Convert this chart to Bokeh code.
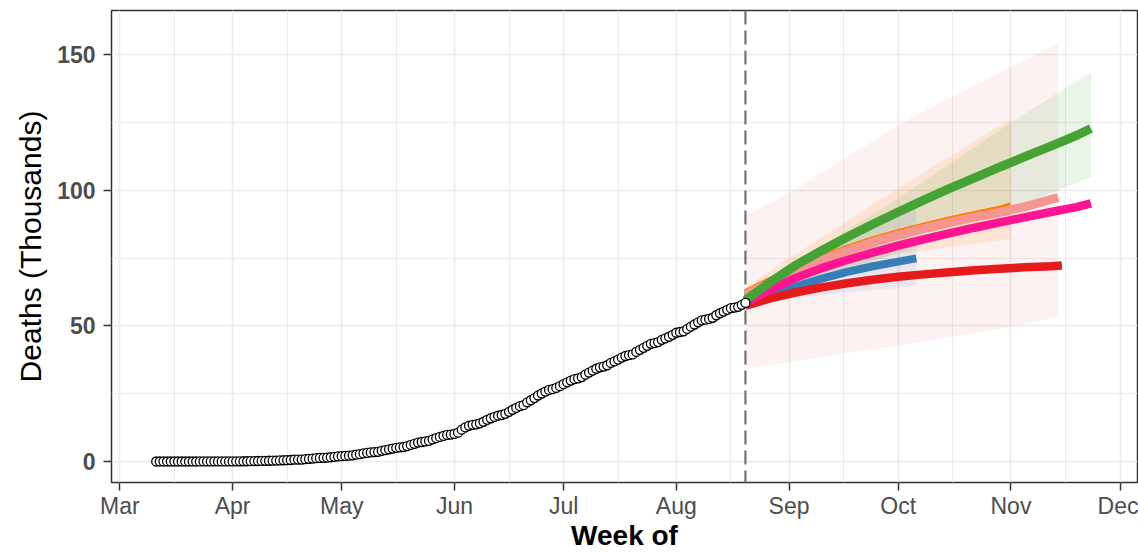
import pandas as pd
from bokeh.plotting import figure
from bokeh.models import Range1d, FixedTicker, DatetimeTickFormatter, Span
from bokeh.embed import file_html
from bokeh.resources import INLINE

# ---------------- data ----------------
obs_start = "2020-03-11"
obs_deaths = [
    0, 0, 0, 0, 0, 0, 0,
    0.001, 0.001, 0.002, 0.002, 0.002, 0.004, 0.005, 0.006, 0.008, 0.012, 0.016, 0.020, 0.028, 0.029,
    0.037, 0.050, 0.060, 0.079, 0.094, 0.125, 0.141, 0.174, 0.194, 0.233, 0.273, 0.296, 0.332, 0.406,
    0.449, 0.486, 0.546, 0.650, 0.686, 0.712, 0.857, 0.970, 1.069, 1.221, 1.305, 1.351, 1.434, 1.569,
    1.732, 1.859,
    1.972, 2.061, 2.154, 2.271, 2.507, 2.704, 2.961, 3.160, 3.353, 3.465, 3.573, 3.926, 4.220, 4.477,
    4.767, 5.045, 5.177, 5.332, 5.666, 6.090, 6.510, 6.989, 7.179, 7.394, 7.633, 8.134, 8.597, 9.044,
    9.415, 9.779, 9.930,
    10.167, 10.637, 11.729, 12.545, 13.170, 13.511, 13.699, 14.053, 14.649, 15.357, 15.944, 16.448,
    16.872, 17.141, 17.580, 18.310, 19.080, 19.747, 20.394, 20.781, 21.825, 22.584, 23.377, 24.324,
    25.060, 25.779, 26.381, 26.648, 27.121, 27.769,
    28.510, 29.189, 29.843, 30.366, 30.639, 31.119, 32.014, 32.796, 33.526, 34.191, 34.730, 35.006,
    35.491, 36.327, 36.906, 37.574, 38.310, 38.888, 39.184, 39.485, 40.400, 41.190, 41.908, 42.645,
    43.374, 43.680, 44.022, 44.876, 45.361, 46.000, 46.688,
    47.472, 47.746, 48.012, 48.869, 49.698, 50.517, 51.311, 52.006, 52.298, 52.551, 53.003, 53.929,
    54.666, 55.293, 55.908, 56.543, 56.757, 57.023, 57.774, 58.481,
]
forecast_date = "2020-08-20"

weeks = ["2020-08-20", "2020-08-27", "2020-09-03", "2020-09-10", "2020-09-17", "2020-09-24",
         "2020-10-01", "2020-10-08", "2020-10-15", "2020-10-22", "2020-10-29", "2020-11-05",
         "2020-11-12", "2020-11-19"]

# forecast medians
green_dates = weeks + ["2020-11-23"]
green_vals = [59.4, 66.3, 72.5, 77.8, 82.8, 87.5, 92.0, 96.4, 100.6, 104.6, 108.6, 112.5, 116.3, 120.2, 122.8]
pink_dates = weeks + ["2020-11-23"]
pink_vals = [58.3, 63.5, 67.8, 71.3, 74.3, 77.0, 79.6, 81.9, 84.1, 86.2, 88.2, 90.1, 92.0, 93.8, 95.2]
red_dates = weeks[:13] + ["2020-11-15"]
red_vals = [57.5, 60.2, 62.4, 64.2, 65.7, 67.0, 68.1, 69.0, 69.8, 70.5, 71.1, 71.6, 72.0, 72.3]
blue_dates = weeks[:7] + ["2020-10-06"]
blue_vals = [58.3, 61.6, 64.6, 67.4, 69.9, 72.0, 73.7, 74.9]
salmon_dates = weeks[:13] + ["2020-11-14"]
salmon_vals = [61.5, 66.0, 70.3, 74.2, 77.7, 80.8, 83.5, 85.9, 88.1, 90.1, 91.9, 94.0, 96.6, 97.3]
orange_dates = weeks[:11] + ["2020-11-01"]
orange_vals = [62.3, 66.9, 71.2, 75.1, 78.6, 81.7, 84.4, 86.8, 89.1, 91.1, 93.0, 94.4]

# forecast intervals
red_band_dates = ["2020-08-20", "2020-09-01", "2020-09-15", "2020-10-01", "2020-10-15", "2020-11-01", "2020-11-14"]
red_lo = [34.2, 36.6, 39.6, 42.8, 45.8, 49.5, 53.5]
red_hi = [90.7, 99.0, 110.7, 124.0, 134.0, 145.5, 154.0]
green_band_dates = ["2020-08-20", "2020-09-01", "2020-10-01", "2020-11-01", "2020-11-23"]
green_lo = [58.5, 64.0, 77.0, 93.0, 104.9]
green_hi = [61.0, 72.0, 97.0, 125.0, 143.6]
orange_band_dates = ["2020-08-20", "2020-09-01", "2020-10-01", "2020-11-01"]
orange_lo = [60.0, 66.0, 76.5, 82.0]
orange_hi = [64.0, 75.0, 100.8, 126.4]
blue_band_dates = ["2020-08-20", "2020-09-01", "2020-09-15", "2020-10-01", "2020-10-06"]
blue_lo = [57.5, 60.0, 62.0, 64.0, 64.9]
blue_hi = [59.5, 70.0, 80.0, 91.0, 96.9]

month_ticks = ["2020-03-01", "2020-04-01", "2020-05-01", "2020-06-01", "2020-07-01",
               "2020-08-01", "2020-09-01", "2020-10-01", "2020-11-01", "2020-12-01"]
month_minor = ["2020-03-16", "2020-04-16", "2020-05-16", "2020-06-16", "2020-07-16",
               "2020-08-16", "2020-09-16", "2020-10-16", "2020-11-16"]
y_ticks = [0, 50, 100, 150]
y_minor = [25, 75, 125]


def ms(d):
    return pd.Timestamp(d).value / 1e6


def dt(lst):
    return pd.to_datetime(lst)


obs_dates = pd.date_range(obs_start, periods=len(obs_deaths), freq="D")

# ---------------- figure ----------------
p = figure(width=1138, height=553, x_axis_type="datetime",
           output_backend="svg", toolbar_location=None,
           x_range=Range1d(ms("2020-02-27 17:00"), ms("2020-12-05 19:00")),
           y_range=Range1d(-7.75, 166.3),
           min_border_left=111, min_border_right=1, min_border_top=10,
           min_border_bottom=50)
p.background_fill_color = "white"
p.border_fill_color = "white"
p.outline_line_color = "#333333"
p.outline_line_width = 1.5

for g in (p.xgrid, p.ygrid):
    g.grid_line_color = "#EBEBEB"
    g.grid_line_width = 1.6
    g.minor_grid_line_color = "#EBEBEB"
    g.minor_grid_line_width = 1.0

p.xaxis.ticker = FixedTicker(ticks=[ms(d) for d in month_ticks],
                             minor_ticks=[ms(d) for d in month_minor])
p.xaxis.formatter = DatetimeTickFormatter(months="%b", days="%b", hours="%b",
                                          years="%b", minutes="%b", seconds="%b")
p.yaxis.ticker = FixedTicker(ticks=y_ticks, minor_ticks=y_minor)

for ax in (p.xaxis, p.yaxis):
    ax.axis_line_color = None
    ax.major_tick_line_color = "#333333"
    ax.major_tick_line_width = 1.5
    ax.major_tick_out = 8
    ax.major_tick_in = 0
    ax.minor_tick_line_color = None
    ax.major_label_text_font = "Liberation Sans"
    ax.major_label_text_font_size = "23px"
    ax.major_label_text_color = "#4D4D4D"
    ax.axis_label_text_font = "Liberation Sans"
    ax.axis_label_text_color = "black"

p.xaxis.major_label_standoff = 2
p.xaxis.major_label_text_line_height = 1.0
p.yaxis.major_label_standoff = 8
p.yaxis.major_label_text_font_style = "bold"
p.xaxis.major_label_text_font_style = "normal"

p.xaxis.axis_label = "Week of"
p.xaxis.axis_label_text_font_size = "28px"
p.xaxis.axis_label_text_font_style = "bold"
p.xaxis.axis_label_text_line_height = 1.0
p.xaxis.axis_label_standoff = -2

p.yaxis.axis_label = "Deaths (Thousands)"
p.yaxis.axis_label_text_font_size = "30px"
p.yaxis.axis_label_text_font_style = "normal"
p.yaxis.axis_label_standoff = 7

# intervals
p.varea(x=dt(red_band_dates), y1=red_lo, y2=red_hi, fill_color="#E41A1C", fill_alpha=0.06)
p.varea(x=dt(orange_band_dates), y1=orange_lo, y2=orange_hi, fill_color="#FF7F00", fill_alpha=0.12)
p.varea(x=dt(green_band_dates), y1=green_lo, y2=green_hi, fill_color="#4DAF4A", fill_alpha=0.13)
p.varea(x=dt(blue_band_dates), y1=blue_lo, y2=blue_hi, fill_color="#377EB8", fill_alpha=0.10)

vline = Span(location=ms(forecast_date), dimension="height", line_color="#737373",
             line_width=2.2, line_dash="14 6", level="underlay")
p.add_layout(vline)

# medians
p.line(dt(orange_dates), orange_vals, line_color="#FF7F00", line_width=7)
p.line(dt(salmon_dates), salmon_vals, line_color="#F59790", line_width=9)
p.line(dt(blue_dates), blue_vals, line_color="#377EB8", line_width=8)
p.line(dt(red_dates), red_vals, line_color="#E41A1C", line_width=8.5)
p.line(dt(pink_dates), pink_vals, line_color="#FF1493", line_width=8.5)
p.line(dt(green_dates), green_vals, line_color="#45A235", line_width=9)

# observed
p.scatter(obs_dates, obs_deaths, marker="circle", size=9, fill_color="white",
          line_color="black", line_width=1.3)

open("out.html", "w").write(file_html(p, INLINE))
